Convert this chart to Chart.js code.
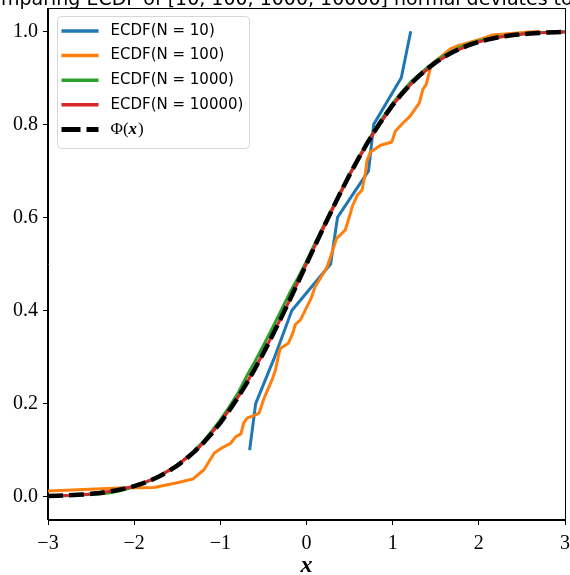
<!DOCTYPE html>
<html>
<head>
<meta charset="utf-8">
<script src="https://cdn.jsdelivr.net/npm/chart.js@4.4.1/dist/chart.umd.min.js"></script>
<style>
  html, body { margin: 0; padding: 0; background: #fff; }
</style>
</head>
<body>
<canvas id="ecdfChart" width="570" height="575"></canvas>
<script>
// values
const titleText = 'Comparing ECDF of [10, 100, 1000, 10000] normal deviates to the normal CDF';
const seriesLabels = ['ECDF(N = 10)', 'ECDF(N = 100)', 'ECDF(N = 1000)', 'ECDF(N = 10000)', 'Φ(x)'];
const seriesColors = ['#1f77b4', '#ff7f0e', '#2ca02c', '#d62728', '#000000'];

const xTicks = [-3, -2, -1, 0, 1, 2, 3];
const xTickLabels = ['\u22123', '\u22122', '\u22121', '0', '1', '2', '3'];
const yTicks = [0, 0.2, 0.4, 0.6, 0.8, 1.0];
const yTickLabels = ['0.0', '0.2', '0.4', '0.6', '0.8', '1.0'];

const n10X = [-0.66, -0.59, -0.37, -0.17, 0.28, 0.36, 0.72, 0.78, 1.10, 1.21];
const n10Y = [0.1, 0.2, 0.3, 0.4, 0.5, 0.6, 0.7, 0.8, 0.9, 1.0];

const n100X = [-3.3, -2.17, -1.77, -1.50, -1.32, -1.19, -1.07, -0.98, -0.88, -0.82, -0.76, -0.73, -0.69, -0.59, -0.55,
  -0.50, -0.45, -0.40, -0.36, -0.32, -0.30, -0.21, -0.16, -0.13, -0.07, 0.01, 0.05, 0.10, 0.16, 0.24, 0.28, 0.35,
  0.45, 0.51, 0.53, 0.59, 0.645, 0.685, 0.70, 0.74, 0.86, 0.99, 1.03, 1.12, 1.20, 1.31, 1.35, 1.39, 1.43, 1.45,
  1.57, 1.67, 1.76, 2.04, 2.16, 2.70];
const n100Y = [0.010, 0.019, 0.020, 0.030, 0.038, 0.058, 0.094, 0.105, 0.115, 0.129, 0.135, 0.158, 0.169, 0.176, 0.180,
  0.208, 0.230, 0.251, 0.272, 0.308, 0.319, 0.330, 0.351, 0.370, 0.380, 0.410, 0.425, 0.451, 0.469, 0.494, 0.516, 0.555,
  0.573, 0.609, 0.623, 0.648, 0.659, 0.697, 0.720, 0.740, 0.755, 0.762, 0.785, 0.803, 0.817, 0.846, 0.875, 0.886, 0.915, 0.929,
  0.947, 0.962, 0.969, 0.984, 0.992, 1.000];

const n1000X = [-3.1, -2.8, -2.6, -2.4, -2.3, -2.2, -2.1, -2.0, -1.9, -1.8, -1.7, -1.6, -1.5, -1.4, -1.3, -1.2, -1.1,
  -1.0, -0.9, -0.8, -0.7, -0.6, -0.5, -0.4, -0.3, -0.2, -0.1, 0.0, 0.1, 0.2, 0.3, 0.4, 0.5, 0.6, 0.7, 0.8, 0.9,
  1.0, 1.1, 1.2, 1.3, 1.4, 1.5, 1.6, 1.7, 1.8, 1.9, 2.0, 2.2, 2.4, 2.6, 2.8, 3.0, 3.3];
const n1000Y = [0.001, 0.002, 0.004, 0.006, 0.008, 0.011, 0.016, 0.022, 0.028, 0.036, 0.045, 0.056, 0.068, 0.083, 0.099,
  0.118, 0.141, 0.165, 0.192, 0.221, 0.257, 0.290, 0.325, 0.361, 0.398, 0.436, 0.470, 0.506, 0.545, 0.583, 0.620, 0.657,
  0.693, 0.727, 0.760, 0.791, 0.819, 0.845, 0.868, 0.889, 0.906, 0.922, 0.936, 0.948, 0.958, 0.967, 0.974, 0.979,
  0.987, 0.992, 0.996, 0.998, 0.999, 1.0];

const n10000X = [-3.3, -3.0, -2.75, -2.5, -2.25, -2.0, -1.75, -1.5, -1.25, -1.0, -0.75, -0.5, -0.25, 0.0, 0.25, 0.5,
  0.75, 1.0, 1.25, 1.5, 1.75, 2.0, 2.25, 2.5, 2.75, 3.0, 3.3];
const n10000Y = [0.0005, 0.0014, 0.0031, 0.0061, 0.0123, 0.0226, 0.0399, 0.0671, 0.1052, 0.1590, 0.2262, 0.3089, 0.4010,
  0.5004, 0.5983, 0.6918, 0.7731, 0.8415, 0.8942, 0.9334, 0.9597, 0.9773, 0.9877, 0.9939, 0.9971, 0.9987, 0.9995];

const phiX = [-3.0, -2.9, -2.8, -2.7, -2.6, -2.5, -2.4, -2.3, -2.2, -2.1, -2.0, -1.9, -1.8, -1.7, -1.6, -1.5, -1.4,
  -1.3, -1.2, -1.1, -1.0, -0.9, -0.8, -0.7, -0.6, -0.5, -0.4, -0.3, -0.2, -0.1, 0.0, 0.1, 0.2, 0.3, 0.4, 0.5, 0.6,
  0.7, 0.8, 0.9, 1.0, 1.1, 1.2, 1.3, 1.4, 1.5, 1.6, 1.7, 1.8, 1.9, 2.0, 2.1, 2.2, 2.3, 2.4, 2.5, 2.6, 2.7, 2.8, 2.9, 3.0];
const phiY = [0.0013, 0.0019, 0.0026, 0.0035, 0.0047, 0.0062, 0.0082, 0.0107, 0.0139, 0.0179, 0.0228, 0.0287, 0.0359,
  0.0446, 0.0548, 0.0668, 0.0808, 0.0968, 0.1151, 0.1357, 0.1587, 0.1841, 0.2119, 0.2420, 0.2743, 0.3085, 0.3446,
  0.3821, 0.4207, 0.4602, 0.5000, 0.5398, 0.5793, 0.6179, 0.6554, 0.6915, 0.7257, 0.7580, 0.7881, 0.8159, 0.8413,
  0.8643, 0.8849, 0.9032, 0.9192, 0.9332, 0.9452, 0.9554, 0.9641, 0.9713, 0.9772, 0.9821, 0.9861, 0.9893, 0.9918,
  0.9938, 0.9953, 0.9965, 0.9974, 0.9981, 0.9987];

function toPoints(xs, ys) {
  return xs.map((x, i) => ({ x: x, y: ys[i] }));
}

const seriesData = [
  toPoints(n10X, n10Y),
  toPoints(n100X, n100Y),
  toPoints(n1000X, n1000Y),
  toPoints(n10000X, n10000Y),
  toPoints(phiX, phiY),
];

const datasets = seriesData.map((pts, i) => ({
  label: seriesLabels[i],
  data: pts,
  borderColor: seriesColors[i],
  backgroundColor: seriesColors[i],
  borderWidth: i === 4 ? 4.5 : 3,
  borderDash: i === 4 ? [15, 6] : [],
  borderCapStyle: 'butt',
  borderJoinStyle: 'round',
  pointRadius: 0,
  tension: 0,
  fill: false,
  clip: 0,
  order: 5 - i, // later series on top, like matplotlib
}));

// frame, title, x label and the in-axes legend
const decorations = {
  id: 'decorations',
  afterDatasetsDraw(chart) {
    const { ctx, chartArea: a } = chart;
    ctx.save();
    ctx.strokeStyle = '#000';
    ctx.lineWidth = 1;
    ctx.strokeRect(Math.round(a.left) - 0.5, Math.round(a.top) + 0.5,
      Math.round(a.right - a.left) + 1, Math.round(a.bottom - a.top) - 1);
    ctx.restore();
  },
  afterDraw(chart) {
    const { ctx, chartArea: a } = chart;
    ctx.save();

    // title, wider than the canvas so it gets cut like the reference
    ctx.font = '19px "DejaVu Sans"';
    ctx.fillStyle = '#000';
    ctx.textAlign = 'left';
    ctx.textBaseline = 'alphabetic';
    const skip = ctx.measureText('Co').width;
    ctx.fillText(titleText, 1 - skip, 5);

    // x axis label
    ctx.font = 'italic bold 24px "Liberation Serif"';
    ctx.textAlign = 'center';
    ctx.fillText('x', (a.left + a.right) / 2, 572);
    ctx.textAlign = 'left';

    // legend box
    const bx = a.left + 9.5, by = a.top + 8.5, bw = 192, bh = 132, r = 4;
    ctx.beginPath();
    ctx.moveTo(bx + r, by);
    ctx.arcTo(bx + bw, by, bx + bw, by + bh, r);
    ctx.arcTo(bx + bw, by + bh, bx, by + bh, r);
    ctx.arcTo(bx, by + bh, bx, by, r);
    ctx.arcTo(bx, by, bx + bw, by, r);
    ctx.closePath();
    ctx.fillStyle = 'rgba(255,255,255,0.8)';
    ctx.fill();
    ctx.strokeStyle = 'rgba(204,204,204,0.8)';
    ctx.lineWidth = 1;
    ctx.stroke();

    chart.data.datasets.forEach((ds, i) => {
      const y = by + 14.5 + i * 24.6;
      ctx.beginPath();
      ctx.strokeStyle = ds.borderColor;
      ctx.lineWidth = i === 4 ? 5 : 3.5;
      ctx.lineCap = 'butt';
      ctx.setLineDash(i === 4 ? [19, 6] : []);
      ctx.moveTo(bx + 4, y);
      ctx.lineTo(bx + 41, y);
      ctx.stroke();
      ctx.setLineDash([]);

      ctx.fillStyle = '#000';
      ctx.textBaseline = 'middle';
      const tx = bx + 53;
      if (i === 4) {
        ctx.font = '17px "Liberation Serif"';
        ctx.fillText('Φ(', tx, y);
        let w = ctx.measureText('Φ(').width;
        ctx.font = 'bold italic 17px "Liberation Serif"';
        ctx.fillText('x', tx + w, y);
        w += ctx.measureText('x').width + 1;
        ctx.font = '17px "Liberation Serif"';
        ctx.fillText(')', tx + w, y);
      } else {
        ctx.font = '15px "DejaVu Sans"';
        ctx.fillText(ds.label, tx, y);
      }
    });
    ctx.restore();
  }
};

const tickFont = { family: 'Liberation Serif', size: 20 };

const config = {
  type: 'line',
  data: { datasets: datasets },
  options: {
    responsive: false,
    animation: false,
    devicePixelRatio: 1,
    layout: { padding: { top: 8, right: 5, left: 0, bottom: 0 } },
    plugins: {
      legend: { display: false },
      tooltip: { enabled: false },
      title: { display: false },
    },
    scales: {
      x: {
        type: 'linear',
        min: -3,
        max: 3,
        afterBuildTicks: scale => { scale.ticks = xTicks.map(v => ({ value: v })); },
        afterFit: scale => {
          scale.height = 55;
          scale.paddingLeft = 0;
          scale.paddingRight = 0;
        },
        ticks: {
          autoSkip: false,
          maxRotation: 0,
          padding: 7,
          color: '#000',
          font: tickFont,
          callback: (v, i) => xTickLabels[i],
        },
        grid: { drawOnChartArea: false, drawTicks: true, tickLength: 5, color: '#000', tickColor: '#000' },
        border: { display: true, color: '#000', width: 1 },
      },
      y: {
        type: 'linear',
        min: -0.05,
        max: 1.05,
        afterBuildTicks: scale => { scale.ticks = yTicks.map(v => ({ value: v })); },
        afterFit: scale => {
          scale.width = 48;
          scale.paddingTop = 0;
          scale.paddingBottom = 0;
        },
        ticks: {
          autoSkip: false,
          padding: 5,
          color: '#000',
          font: tickFont,
          callback: (v, i) => yTickLabels[i],
        },
        grid: { drawOnChartArea: false, drawTicks: true, tickLength: 5, color: '#000', tickColor: '#000' },
        border: { display: true, color: '#000', width: 1 },
      },
    },
  },
  plugins: [decorations],
};

const myChart = new Chart(document.getElementById('ecdfChart'), config);
</script>
</body>
</html>
